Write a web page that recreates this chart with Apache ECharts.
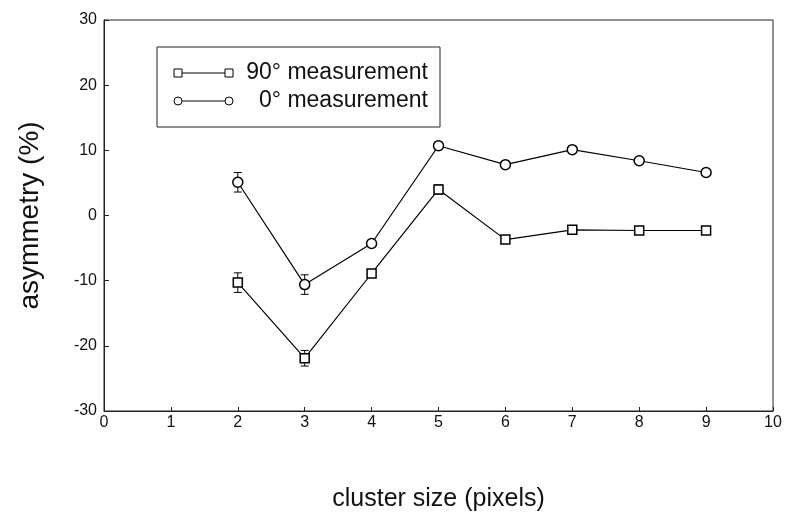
<!DOCTYPE html>
<html><head><meta charset="utf-8">
<script src="https://cdn.jsdelivr.net/npm/echarts@6/dist/echarts.min.js"></script>
<style>html,body{margin:0;padding:0;background:#fff}#c{width:786px;height:515px}</style>
</head><body><div id="c"></div>
<script>
var clusterSize = [2, 3, 4, 5, 6, 7, 8, 9];
var meas0 = [5.1, -10.6, -4.3, 10.7, 7.8, 10.1, 8.4, 6.6];
var err0 = [1.5, 1.5, 0.5, 0.6, 0.4, 0.4, 0.4, 0.4];
var meas90 = [-10.3, -21.9, -8.9, 4.0, -3.7, -2.2, -2.3, -2.3];
var err90 = [1.5, 1.2, 0.4, 0.7, 0.4, 0.4, 0.4, 0.4];
var seriesNames = ['90\u00b0 measurement', '0\u00b0 measurement'];

var FONT = '"Liberation Sans", Arial, sans-serif';
function pts(ys) { return clusterSize.map(function (x, i) { return [x, ys[i]]; }); }
function errData(ys, es) { return clusterSize.map(function (x, i) { return [x, ys[i] - es[i], ys[i] + es[i]]; }); }
function errSeries(ys, es) {
  return {
    type: 'custom', silent: true, z: 1,
    data: errData(ys, es),
    renderItem: function (params, api) {
      var x = api.value(0);
      var lo = api.coord([x, api.value(1)]);
      var hi = api.coord([x, api.value(2)]);
      var w = 4;
      var st = { stroke: '#000', lineWidth: 1 };
      return { type: 'group', children: [
        { type: 'line', shape: { x1: lo[0], y1: lo[1], x2: hi[0], y2: hi[1] }, style: st },
        { type: 'line', shape: { x1: lo[0] - w, y1: lo[1], x2: lo[0] + w, y2: lo[1] }, style: st },
        { type: 'line', shape: { x1: hi[0] - w, y1: hi[1], x2: hi[0] + w, y2: hi[1] }, style: st }
      ]};
    }
  };
}

var chart = echarts.init(document.getElementById('c'));
var lx1 = 178, lx2 = 229;
chart.setOption({
  animation: false,
  backgroundColor: '#fff',
  grid: { left: 104, right: 13, top: 20, bottom: 104, outerBoundsMode: 'none', containLabel: false,
          show: true, borderColor: '#222', borderWidth: 1 },
  xAxis: {
    type: 'value', min: 0, max: 10, interval: 1,
    name: 'cluster size (pixels)', nameLocation: 'middle', nameGap: 76,
    nameTextStyle: { fontFamily: FONT, fontSize: 25, color: '#111' },
    axisLine: { onZero: false, lineStyle: { color: '#222' } },
    axisTick: { inside: true, length: 4, lineStyle: { color: '#222' } },
    axisLabel: { fontFamily: FONT, fontSize: 16, color: '#111', margin: 4 },
    splitLine: { show: false }
  },
  yAxis: {
    type: 'value', min: -30, max: 30, interval: 10,
    name: 'asymmetry (%)', nameLocation: 'middle', nameGap: 60,
    nameTextStyle: { fontFamily: FONT, fontSize: 28, color: '#111' },
    axisLine: { onZero: false, lineStyle: { color: '#222' } },
    axisTick: { inside: true, length: 5, lineStyle: { color: '#222' } },
    axisLabel: { fontFamily: FONT, fontSize: 16, color: '#111', margin: 7 },
    splitLine: { show: false }
  },
  graphic: [
    { type: 'rect', shape: { x: 157, y: 47, width: 283, height: 80 }, style: { fill: '#fff', stroke: '#222', lineWidth: 1 }, z: 10 },
    { type: 'line', shape: { x1: lx1, y1: 73, x2: lx2, y2: 73 }, style: { stroke: '#000', lineWidth: 1 }, z: 11 },
    { type: 'rect', shape: { x: lx1 - 4, y: 69, width: 8, height: 8 }, style: { fill: '#fff', stroke: '#000', lineWidth: 1 }, z: 12 },
    { type: 'rect', shape: { x: lx2 - 4, y: 69, width: 8, height: 8 }, style: { fill: '#fff', stroke: '#000', lineWidth: 1 }, z: 12 },
    { type: 'text', x: 428, y: 73, style: { text: seriesNames[0], font: '23px ' + FONT, fill: '#111', align: 'right', verticalAlign: 'middle' }, z: 12 },
    { type: 'line', shape: { x1: lx1, y1: 101, x2: lx2, y2: 101 }, style: { stroke: '#000', lineWidth: 1 }, z: 11 },
    { type: 'circle', shape: { cx: lx1, cy: 101, r: 4 }, style: { fill: '#fff', stroke: '#000', lineWidth: 1 }, z: 12 },
    { type: 'circle', shape: { cx: lx2, cy: 101, r: 4 }, style: { fill: '#fff', stroke: '#000', lineWidth: 1 }, z: 12 },
    { type: 'text', x: 428, y: 101, style: { text: seriesNames[1], font: '23px ' + FONT, fill: '#111', align: 'right', verticalAlign: 'middle' }, z: 12 }
  ],
  series: [
    errSeries(meas90, err90),
    errSeries(meas0, err0),
    { name: seriesNames[0], type: 'line', data: pts(meas90), symbol: 'rect', symbolSize: 9,
      lineStyle: { color: '#000', width: 1.2 }, itemStyle: { color: '#fff', borderColor: '#000', borderWidth: 1.5 }, z: 3 },
    { name: seriesNames[1], type: 'line', data: pts(meas0), symbol: 'circle', symbolSize: 10,
      lineStyle: { color: '#000', width: 1.2 }, itemStyle: { color: '#fff', borderColor: '#000', borderWidth: 1.5 }, z: 3 }
  ]
});
</script></body></html>
